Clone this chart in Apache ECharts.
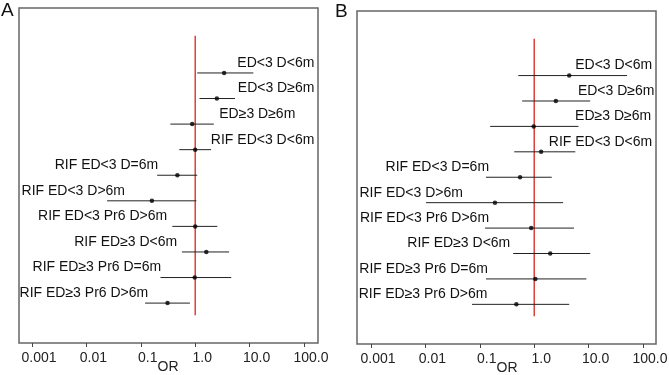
<!DOCTYPE html>
<html>
<head>
<meta charset="utf-8">
<script src="https://cdn.jsdelivr.net/npm/echarts@6/dist/echarts.min.js"></script>
<style>
html,body{margin:0;padding:0;background:#fff;}
#chart{width:669px;height:375px;}
</style>
</head>
<body>
<div id="chart"></div>
<script>
// ---- data ----
const categories = ['ED<3 D<6m','ED<3 D\u22656m','ED\u22653 D\u22656m','RIF ED<3 D<6m','RIF ED<3 D=6m','RIF ED<3 D>6m','RIF ED<3 Pr6 D>6m','RIF ED\u22653 D<6m','RIF ED\u22653 Pr6 D=6m','RIF ED\u22653 Pr6 D>6m'];
const orA = [3.4, 2.5, 0.88, 1.0, 0.47, 0.16, 1.0, 1.6, 0.98, 0.31];
const loA = [1.09, 1.2, 0.35, 0.51, 0.2, 0.024, 0.38, 0.57, 0.23, 0.12];
const hiA = [11.7, 5.4, 2.2, 1.96, 1.09, 1.05, 2.55, 4.2, 4.6, 0.8];
const orB = [4.4, 2.5, 0.98, 1.34, 0.55, 0.19, 0.88, 1.97, 1.05, 0.47];
const loB = [0.51, 0.6, 0.155, 0.43, 0.13, 0.0103, 0.125, 0.41, 0.13, 0.072];
const hiB = [51, 10.7, 6.5, 5.7, 2.1, 3.4, 5.4, 10.7, 9.1, 4.4];
const tickValues = [0.001, 0.01, 0.1, 1, 10, 100];
const tickLabels = ['0.001', '0.01', '0.1', '1.0', '10.0', '100.0'];
const refOR = 1;

// ---- layout (label right-edge anchors, in decades of OR) ----
const labelEndA = [2.19, 2.19, 1.84, 2.19, -0.68, -1.29, -0.515, -0.33, -0.625, -0.864];
const labelEndB = [2.17, 2.21, 2.15, 2.17, -0.83, -1.31, -0.83, -0.44, -0.85, -0.86];

const FONT = 'Liberation Sans, Arial, sans-serif';
const chart = echarts.init(document.getElementById('chart'));

function fmt(v){
  for (let i=0;i<tickValues.length;i++){ if (Math.abs(Math.log10(v)-Math.log10(tickValues[i]))<1e-6) return tickLabels[i]; }
  return '';
}

function xAxisFor(gi){
  return {
    type:'log', logBase:10, gridIndex:gi, min:0.001, max:100,
    axisLine:{show:false, onZero:false},
    axisTick:{show:true, length:4, inside:false, lineStyle:{color:'#444', width:1}},
    splitLine:{show:false}, minorTick:{show:false},
    axisLabel:{formatter:fmt, color:'#222', fontSize:14, fontFamily:FONT, margin:8, padding:[0,0,0,14]},
    name:'OR', nameLocation:'middle', nameGap:17, nameMoveOverlap:false,
    nameTextStyle:{color:'#222', fontSize:14, fontFamily:FONT}
  };
}
function yAxisFor(gi){
  return {type:'value', gridIndex:gi, min:-1.54, max:11.56, inverse:true, show:false};
}

function panelSeries(gi, orV, loV, hiV, labEnd){
  const rows = categories.map((c,i)=>i+1);
  return [
    {
      type:'line', xAxisIndex:gi, yAxisIndex:gi, symbol:'none', silent:true,
      lineStyle:{color:'#d9231c', width:1.3},
      data:[[refOR, -0.45],[refOR, 10.47]], z:1
    },
    {
      type:'custom', xAxisIndex:gi, yAxisIndex:gi, silent:true, z:2,
      data: rows.map((r,i)=>[loV[i], hiV[i], r]),
      renderItem:function(params, api){
        const p1 = api.coord([api.value(0), api.value(2)]);
        const p2 = api.coord([api.value(1), api.value(2)]);
        return {type:'line', shape:{x1:p1[0], y1:p1[1], x2:p2[0], y2:p2[1]}, style:{stroke:'#222', lineWidth:1}};
      }
    },
    {
      type:'scatter', xAxisIndex:gi, yAxisIndex:gi, silent:true, z:3,
      symbol:'circle', symbolSize:4.5, itemStyle:{color:'#000'},
      data: rows.map((r,i)=>[orV[i], r])
    },
    {
      type:'custom', xAxisIndex:gi, yAxisIndex:gi, silent:true, z:4, clip:false,
      data: rows.map((r,i)=>[Math.pow(10, labEnd[i]), r, i]),
      renderItem:function(params, api){
        const p = api.coord([api.value(0), api.value(1)]);
        return {type:'text', x:p[0], y:p[1]-3,
          style:{text:categories[api.value(2)], align:'right', verticalAlign:'bottom', fill:'#111', font:'14px '+FONT}};
      }
    }
  ];
}

const option = {
  animation:false,
  backgroundColor:'#fff',
  grid:[
    {left:32, width:272, top:8, bottom:32, outerBoundsMode:'none', containLabel:false},
    {left:371, width:272, top:11, bottom:31, outerBoundsMode:'none', containLabel:false}
  ],
  xAxis:[xAxisFor(0), xAxisFor(1)],
  yAxis:[yAxisFor(0), yAxisFor(1)],
  series:[].concat(panelSeries(0, orA, loA, hiA, labelEndA), panelSeries(1, orB, loB, hiB, labelEndB)),
  graphic:[
    {type:'rect', shape:{x:19, y:8, width:299, height:335}, style:{fill:'none', stroke:'#666', lineWidth:1.5}, z:0},
    {type:'rect', shape:{x:357, y:11, width:299, height:333}, style:{fill:'none', stroke:'#666', lineWidth:1.5}, z:0},
    {type:'text', x:1, y:1, style:{text:'A', font:'19px '+FONT, fill:'#111'}},
    {type:'text', x:335, y:2, style:{text:'B', font:'19px '+FONT, fill:'#111'}}
  ]
};
chart.setOption(option);
</script>
</body>
</html>
